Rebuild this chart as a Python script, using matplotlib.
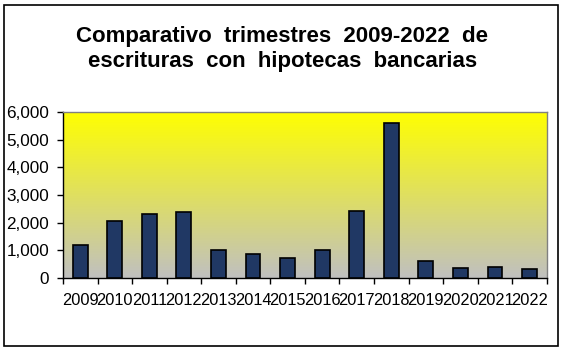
import numpy as np
import matplotlib
matplotlib.use('Agg')
from matplotlib import pyplot as plt
from matplotlib.colors import LinearSegmentedColormap
from matplotlib.patches import Rectangle
from matplotlib.ticker import FuncFormatter

years = ["2009", "2010", "2011", "2012", "2013", "2014", "2015",
         "2016", "2017", "2018", "2019", "2020", "2021", "2022"]
escrituras = [1190, 2070, 2310, 2370, 1020, 850, 710,
              1000, 2420, 5610, 615, 370, 410, 325]
y_ticks = [0, 1000, 2000, 3000, 4000, 5000, 6000]

plt.rcParams['font.family'] = ['Liberation Sans', 'DejaVu Sans']

fig = plt.figure(figsize=(5.62, 3.53), dpi=100)
ax = fig.add_axes([0.112, 0.2125, 0.861, 0.4705])

# fondo degradado amarillo -> gris
cmap = LinearSegmentedColormap.from_list('fondo', ['#c0c0c0', '#ffff00'])
grad = np.linspace(0, 1, 256).reshape(-1, 1)
ax.imshow(grad, aspect='auto', cmap=cmap, origin='lower',
          extent=[-0.5, 13.5, 0, 6000], zorder=0)

x = np.arange(len(years))
ax.bar(x, escrituras, width=0.43, color='#203864', edgecolor='black',
       linewidth=1.2, zorder=3)

ax.set_xlim(-0.5, 13.5)
ax.set_ylim(0, 6000)
ax.set_yticks(y_ticks)
ax.yaxis.set_major_formatter(FuncFormatter(lambda v, p: f"{int(v):,}"))
ax.tick_params(axis='y', labelsize=12.3, length=4, width=1, pad=6)

ax.set_xticks(x)
ax.set_xticklabels(years)
ax.set_xticks(np.arange(-0.5, 14, 1), minor=True)
ax.tick_params(axis='x', which='major', length=0, labelsize=11.8, pad=11)
ax.tick_params(axis='x', which='minor', length=4, width=1)

for side in ['top', 'right']:
    ax.spines[side].set_color('#808080')
    ax.spines[side].set_linewidth(1)
for side in ['left', 'bottom']:
    ax.spines[side].set_color('black')
    ax.spines[side].set_linewidth(1)

fig.text(0.502, 0.897, "Comparativo  trimestres  2009-2022  de",
         ha='center', va='center', fontsize=16, fontweight='bold')
fig.text(0.502, 0.827, "escrituras  con  hipotecas  bancarias",
         ha='center', va='center', fontsize=16, fontweight='bold')

# marco del gráfico
fig.patches.append(Rectangle((4 / 562, 7 / 353), 554 / 562, 341 / 353,
                             transform=fig.transFigure, fill=False,
                             edgecolor='black', linewidth=1.2))

fig.savefig('out.png', dpi=100)
plt.close()
